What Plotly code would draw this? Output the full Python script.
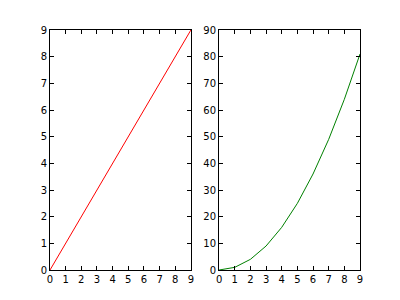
import plotly.graph_objects as go

x = [0, 1, 2, 3, 4, 5, 6, 7, 8, 9]
y_linear = [0, 1, 2, 3, 4, 5, 6, 7, 8, 9]
y_square = [0, 1, 4, 9, 16, 25, 36, 49, 64, 81]

fig = go.Figure()
fig.add_trace(go.Scatter(x=x, y=y_linear, mode="lines", line=dict(color="#ff0000", width=1),
                         xaxis="x", yaxis="y", showlegend=False))
fig.add_trace(go.Scatter(x=x, y=y_square, mode="lines", line=dict(color="#008000", width=1),
                         xaxis="x2", yaxis="y2", showlegend=False))

axis_common = dict(showline=True, linecolor="black", linewidth=1, mirror="ticks",
                   ticks="inside", ticklen=4, tickcolor="black", tickwidth=1,
                   showgrid=False, zeroline=False, automargin=False,
                   tickfont=dict(family="DejaVu Sans", size=10, color="black"))

fig.update_layout(
    template="none",
    width=400, height=300,
    margin=dict(l=0, r=0, t=0, b=0, pad=0),
    paper_bgcolor="white", plot_bgcolor="white",
    xaxis=dict(domain=[50/400, 190.9/400], range=[0, 9], dtick=1, anchor="y", **axis_common),
    yaxis=dict(domain=[0.1, 0.9], range=[0, 9], dtick=1, anchor="x", **axis_common),
    xaxis2=dict(domain=[219.1/400, 360/400], range=[0, 9], dtick=1, anchor="y2", **axis_common),
    yaxis2=dict(domain=[0.1, 0.9], range=[0, 90], dtick=10, anchor="x2", **axis_common),
)

fig.write_html("out.html")
